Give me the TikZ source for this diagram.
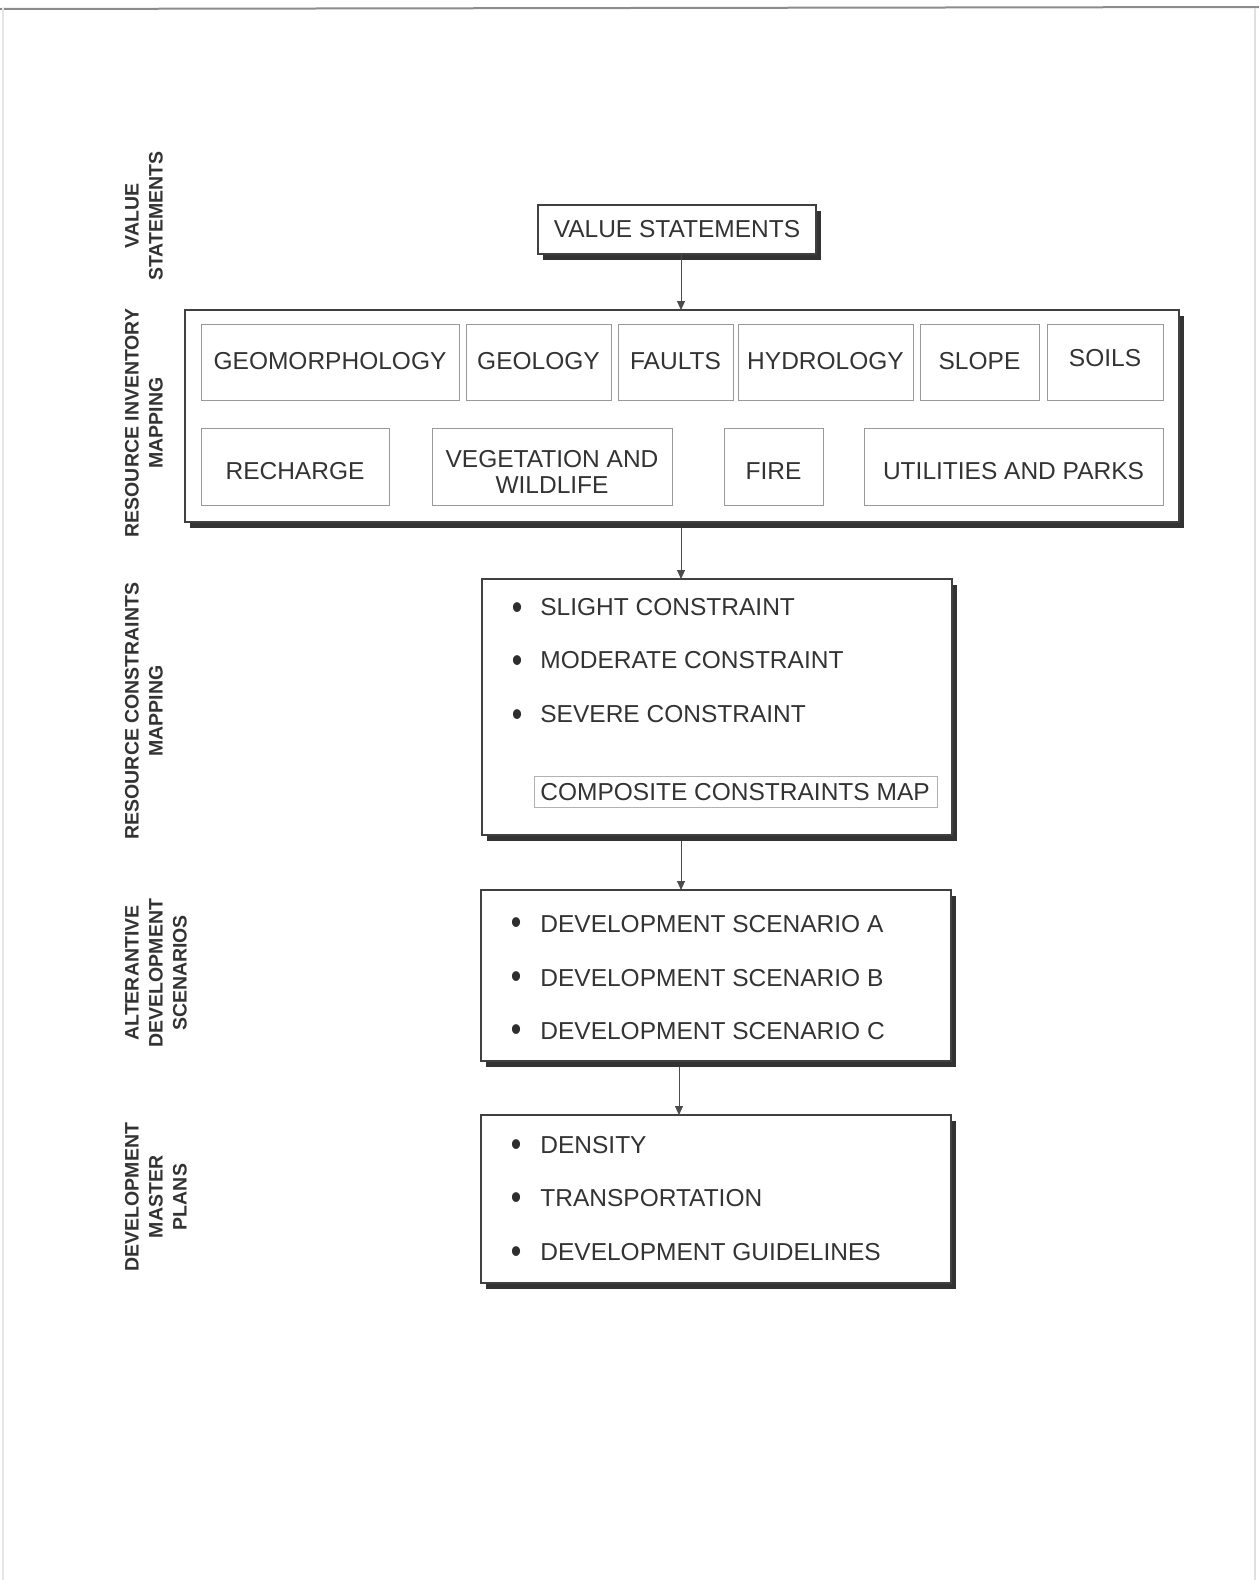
\documentclass[tikz,border=0pt]{standalone}
\usepackage{fontspec}
\setmainfont{Liberation Sans}
\usetikzlibrary{shadows,arrows.meta}
\definecolor{ink}{HTML}{333333}
\def\u{0.5pt}
\begin{document}
\begin{tikzpicture}[x=0.5pt,y=-0.5pt,
  mainbox/.style={draw=black!75, line width=0.6pt, fill=white, inner sep=0pt, outer sep=0pt, anchor=north west,
    drop shadow={shadow xshift=2.6pt, shadow yshift=-2.8pt, opacity=1, fill=black!80}},
  subbox/.style={draw=black!40, line width=0.5pt, inner sep=0pt, outer sep=0pt, anchor=north west},
  txt/.style={font=\fontsize{12.25pt}{13pt}\selectfont, text=ink, inner sep=0pt},
  item/.style={txt, anchor=west},
  bul/.style={font=\fontsize{15pt}{15pt}\selectfont, text=ink!90!black, inner sep=0pt, yscale=1.2},
  lab/.style={font=\bfseries\fontsize{9.75pt}{12pt}\selectfont, text=ink, rotate=90, align=center, inner sep=0pt},
  arr/.style={draw=black!70, line width=0.5pt, -{Triangle[width=4pt,length=4.5pt]}},
]
\useasboundingbox (0,0) rectangle (1259,1580);
% page edges of the scan
\draw[black!45, line width=1pt] (0,9) -- (1259,7);
\draw[black!12, line width=0.6pt] (1255,8) -- (1255,1580);
\draw[black!10, line width=0.6pt] (3,8) -- (3,1580);

% side labels
\node[lab] (l1) at (144,216) {VALUE\\STATEMENTS};
\node[lab] (l2) at (144,423) {RESOURCE INVENTORY\\MAPPING};
\node[lab] (l3) at (144,711) {RESOURCE CONSTRAINTS\\MAPPING};
\node[lab] (l4) at (156,973) {ALTERANTIVE\\DEVELOPMENT\\SCENARIOS};
\node[lab] (l5) at (156,1197) {DEVELOPMENT\\MASTER\\PLANS};

% value statements
\node[mainbox, minimum width=278*\u, minimum height=49*\u] (vs) at (538,205) {};
\node[txt] (vsT) at (vs.center) {VALUE STATEMENTS};

% resource inventory
\node[mainbox, minimum width=994*\u, minimum height=212*\u] (inv) at (185,310) {};
\node[subbox, minimum width=258*\u, minimum height=76*\u] (geo) at (201,324) {};
\node[subbox, minimum width=145*\u, minimum height=76*\u] (geol) at (466,324) {};
\node[subbox, minimum width=115*\u, minimum height=76*\u] (fault) at (618,324) {};
\node[subbox, minimum width=175*\u, minimum height=76*\u] (hydro) at (738,324) {};
\node[subbox, minimum width=119*\u, minimum height=76*\u] (slope) at (920,324) {};
\node[subbox, minimum width=116*\u, minimum height=76*\u] (soils) at (1047,324) {};
\node[txt] (geoT) at ([yshift=0.5pt]geo.center) {GEOMORPHOLOGY};
\node[txt] (geolT) at ([yshift=0.5pt]geol.center) {GEOLOGY};
\node[txt] (faultT) at ([yshift=0.5pt]fault.center) {FAULTS};
\node[txt] (hydroT) at ([yshift=0.5pt]hydro.center) {HYDROLOGY};
\node[txt] (slopeT) at ([yshift=0.5pt]slope.center) {SLOPE};
\node[txt] (soilsT) at ([yshift=2pt]soils.center) {SOILS};

\node[subbox, minimum width=188*\u, minimum height=77*\u] (rech) at (201,428) {};
\node[subbox, minimum width=240*\u, minimum height=77*\u] (veg) at (432,428) {};
\node[subbox, minimum width=99*\u, minimum height=77*\u] (fire) at (724,428) {};
\node[subbox, minimum width=299*\u, minimum height=77*\u] (util) at (864,428) {};
\node[txt] (rechT) at ([yshift=-2.5pt]rech.center) {RECHARGE};
\node[txt, align=center] (vegT) at ([yshift=-2.5pt]veg.center) {VEGETATION AND\\WILDLIFE};
\node[txt] (fireT) at ([yshift=-2.5pt]fire.center) {FIRE};
\node[txt] (utilT) at ([yshift=-2.5pt]util.center) {UTILITIES AND PARKS};

% constraints
\node[mainbox, minimum width=470*\u, minimum height=256*\u] (cons) at (482,579) {};
\node[bul] (c1b) at (517,611) {\textbullet};
\node[item] (c1) at (540,607) {SLIGHT CONSTRAINT};
\node[bul] (c2b) at (517,664) {\textbullet};
\node[item] (c2) at (540,660) {MODERATE CONSTRAINT};
\node[bul] (c3b) at (517,718) {\textbullet};
\node[item] (c3) at (540,714) {SEVERE CONSTRAINT};
\node[subbox, draw=black!30, minimum width=403*\u, minimum height=31*\u] (comp) at (534,776) {};
\node[item] (compT) at (540,792) {COMPOSITE CONSTRAINTS MAP};

% scenarios
\node[mainbox, minimum width=470*\u, minimum height=171*\u] (scen) at (481,890) {};
\node[bul] (s1b) at (516,926) {\textbullet};
\node[item] (s1) at (540,924) {DEVELOPMENT SCENARIO A};
\node[bul] (s2b) at (516,980) {\textbullet};
\node[item] (s2) at (540,978) {DEVELOPMENT SCENARIO B};
\node[bul] (s3b) at (516,1033) {\textbullet};
\node[item] (s3) at (540,1031) {DEVELOPMENT SCENARIO C};

% master plans
\node[mainbox, minimum width=470*\u, minimum height=168*\u] (plan) at (481,1115) {};
\node[bul] (p1b) at (516,1148) {\textbullet};
\node[item] (p1) at (540,1145) {DENSITY};
\node[bul] (p2b) at (516,1201) {\textbullet};
\node[item] (p2) at (540,1198) {TRANSPORTATION};
\node[bul] (p3b) at (516,1255) {\textbullet};
\node[item] (p3) at (540,1252) {DEVELOPMENT GUIDELINES};

% connectors
\coordinate (ax) at (681,0);
\coordinate (bx) at (679,0);
\draw[arr] (vs.south -| ax) -- (inv.north -| ax);
\draw[arr] ([yshift=-3pt]inv.south -| ax) -- (cons.north -| ax);
\draw[arr] ([yshift=-3pt]cons.south -| ax) -- (scen.north -| ax);
\draw[arr] ([yshift=-3pt]scen.south -| bx) -- (plan.north -| bx);
\end{tikzpicture}
\end{document}
